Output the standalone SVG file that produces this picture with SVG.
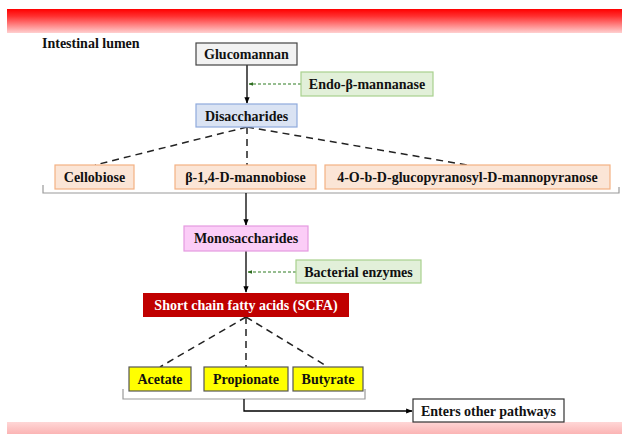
<svg xmlns="http://www.w3.org/2000/svg" width="622" height="434" viewBox="0 0 622 434">
<defs>
<linearGradient id="topband" x1="0" y1="0" x2="0" y2="1">
<stop offset="0" stop-color="#ff0000"/>
<stop offset="0.3" stop-color="#ff3030"/>
<stop offset="1" stop-color="#ffd0d0"/>
</linearGradient>
<linearGradient id="botband" x1="0" y1="0" x2="0" y2="1">
<stop offset="0" stop-color="#ffd6d6"/>
<stop offset="1" stop-color="#fbb4b4"/>
</linearGradient>
<marker id="arr" viewBox="0 0 10 10" refX="9" refY="5" markerWidth="5" markerHeight="5" orient="auto">
<path d="M0,1 L10,5 L0,9 z" fill="#000"/>
</marker>
<marker id="garr" viewBox="0 0 10 10" refX="9" refY="5" markerWidth="4" markerHeight="4" orient="auto">
<path d="M0,1 L10,5 L0,9 z" fill="#2e6b1f"/>
</marker>
</defs>
<style>
text{font-family:"Liberation Serif","Times New Roman",serif;font-weight:bold;font-size:14px;fill:#111;}
.c{text-anchor:middle;}
.arrow{stroke:#000;stroke-width:1.3;fill:none;}
.dash{stroke:#222;stroke-width:1.5;stroke-dasharray:7,5;fill:none;}
.gdash{stroke:#2e7d22;stroke-width:1.2;stroke-dasharray:3,2;fill:none;}
.brace{stroke:#9a9a9a;stroke-width:1.2;fill:none;}
.bio{fill:#fbe5d6;stroke:#f4b183;stroke-width:1.2;}
.enz{fill:#e2f0d9;stroke:#a9d18e;stroke-width:1.2;}
.ylw{fill:#ffff00;stroke:#555;stroke-width:1.2;}
</style>
<rect x="7" y="9" width="615" height="24" fill="url(#topband)"/>
<rect x="7" y="422" width="615" height="12" fill="url(#botband)"/>
<text x="42" y="48">Intestinal lumen</text>

<g id="connectors">
<line class="arrow" x1="247" y1="65" x2="247" y2="103" marker-end="url(#arr)"/>
<line class="gdash" x1="301" y1="84" x2="249" y2="84" marker-end="url(#garr)"/>
<line class="dash" x1="247" y1="127" x2="95" y2="165"/>
<line class="dash" x1="247" y1="127" x2="247" y2="165"/>
<line class="dash" x1="247" y1="127" x2="467" y2="165"/>
<path class="brace" d="M43,185 V193 H619 V187"/>
<line class="arrow" x1="246" y1="193" x2="246" y2="225" marker-end="url(#arr)"/>
<line class="arrow" x1="246" y1="251" x2="246" y2="292" marker-end="url(#arr)"/>
<line class="gdash" x1="296" y1="272" x2="248" y2="272" marker-end="url(#garr)"/>
<line class="dash" x1="246" y1="317" x2="160" y2="367"/>
<line class="dash" x1="246" y1="317" x2="246" y2="367"/>
<line class="dash" x1="246" y1="317" x2="328" y2="367"/>
<path class="brace" d="M123,389 V399 H365 V389"/>
<path class="arrow" d="M244,399 V411 H412" marker-end="url(#arr)"/>
</g>

<g id="glucomannan">
<rect x="196" y="43" width="101" height="22" fill="#f2f2f2" stroke="#444" stroke-width="1.2"/>
<text class="c" x="246.5" y="59">Glucomannan</text>
</g>
<g id="endo">
<rect class="enz" x="301" y="72" width="132" height="24"/>
<text class="c" x="367" y="89">Endo-β-mannanase</text>
</g>
<g id="disaccharides">
<rect x="196" y="104" width="101" height="23" fill="#dae3f3" stroke="#8faadc" stroke-width="1.2"/>
<text class="c" x="246.5" y="120.5">Disaccharides</text>
</g>
<g id="cellobiose">
<rect class="bio" x="55" y="165" width="79" height="24"/>
<text class="c" x="94.5" y="182">Cellobiose</text>
</g>
<g id="mannobiose">
<rect class="bio" x="175" y="165" width="141" height="24"/>
<text class="c" x="245.5" y="182">β-1,4-D-mannobiose</text>
</g>
<g id="glucopyranosyl">
<rect class="bio" x="325" y="165" width="285" height="24"/>
<text class="c" x="467.5" y="182">4-O-b-D-glucopyranosyl-D-mannopyranose</text>
</g>
<g id="monosaccharides">
<rect x="184" y="226" width="124" height="25" fill="#fbcdf7" stroke="#e59ae0" stroke-width="1.2"/>
<text class="c" x="246" y="243">Monosaccharides</text>
</g>
<g id="bacterial">
<rect class="enz" x="296" y="260" width="125" height="23"/>
<text class="c" x="358.5" y="276.5">Bacterial enzymes</text>
</g>
<g id="scfa">
<rect x="143" y="293" width="206" height="24" fill="#c00000"/>
<text class="c" x="246" y="310" style="fill:#fff">Short chain fatty acids (SCFA)</text>
</g>
<g id="acetate">
<rect class="ylw" x="129" y="367" width="62" height="24"/>
<text class="c" x="160" y="384">Acetate</text>
</g>
<g id="propionate">
<rect class="ylw" x="204" y="367" width="84" height="24"/>
<text class="c" x="246" y="384">Propionate</text>
</g>
<g id="butyrate">
<rect class="ylw" x="293" y="367" width="70" height="24"/>
<text class="c" x="328" y="384">Butyrate</text>
</g>
<g id="enters">
<rect x="413" y="399" width="151" height="23" fill="#fff" stroke="#333" stroke-width="1.2"/>
<text class="c" x="488.5" y="415.5">Enters other pathways</text>
</g>
</svg>
